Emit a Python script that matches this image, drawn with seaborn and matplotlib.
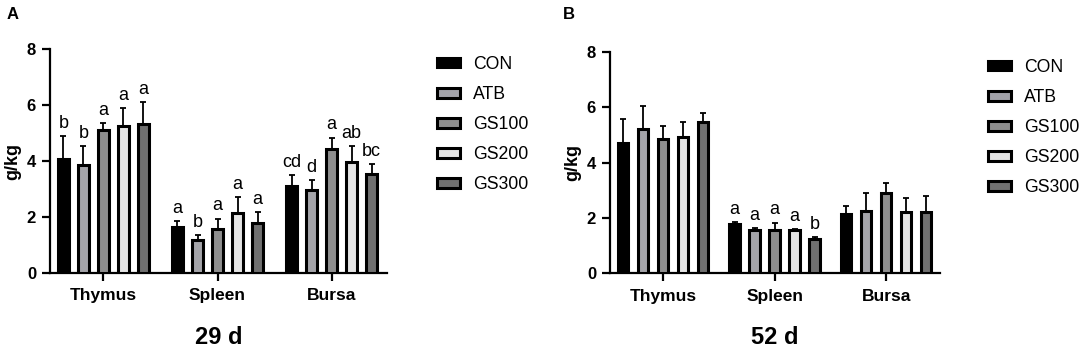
import numpy as np
import pandas as pd
import matplotlib
matplotlib.use("Agg")
import matplotlib.pyplot as plt
import seaborn as sns
from matplotlib.patches import Patch

organs = ["Thymus", "Spleen", "Bursa"]
groups = ["CON", "ATB", "GS100", "GS200", "GS300"]
colors = ["#000000", "#a3a3aa", "#8e8e8e", "#e4e4e4", "#707070"]

# Panel A (29 d): rows = groups, columns = organs
a_mean = [[4.06, 1.64, 3.11],
          [3.87, 1.17, 2.95],
          [5.10, 1.58, 4.44],
          [5.24, 2.14, 3.96],
          [5.31, 1.79, 3.52]]
a_sd = [[0.82, 0.22, 0.39],
        [0.65, 0.19, 0.36],
        [0.27, 0.36, 0.40],
        [0.65, 0.56, 0.58],
        [0.80, 0.38, 0.36]]
a_letters = [["b", "a", "cd"],
             ["b", "b", "d"],
             ["a", "a", "a"],
             ["a", "a", "ab"],
             ["a", "a", "bc"]]

# Panel B (52 d)
b_mean = [[4.72, 1.77, 2.15],
          [5.20, 1.58, 2.26],
          [4.86, 1.55, 2.90],
          [4.92, 1.56, 2.20],
          [5.45, 1.24, 2.20]]
b_sd = [[0.85, 0.08, 0.27],
        [0.85, 0.06, 0.64],
        [0.46, 0.28, 0.36],
        [0.56, 0.05, 0.53],
        [0.33, 0.07, 0.60]]
b_letters = [["", "a", ""],
             ["", "a", ""],
             ["", "a", ""],
             ["", "a", ""],
             ["", "b", ""]]

yticks = [0, 2, 4, 6, 8]

sns.set_theme(style="ticks")
plt.rcParams["font.family"] = ["Liberation Sans", "DejaVu Sans"]
for k in ["text.color", "axes.labelcolor", "xtick.color", "ytick.color",
          "axes.edgecolor"]:
    plt.rcParams[k] = "black"

W, H = 1084, 350
fig = plt.figure(figsize=(W / 100, H / 100), dpi=100)


def panel(rect, xlim, width, means, sds, letters, title, letter, letter_xy, legend_xy):
    ax = fig.add_axes(rect)
    rows = []
    for gi, g in enumerate(groups):
        for oi, o in enumerate(organs):
            rows.append({"organ": o, "group": g, "value": means[gi][oi]})
    df = pd.DataFrame(rows)
    sns.barplot(data=df, x="organ", y="value", hue="group", order=organs,
                hue_order=groups, palette=colors, edgecolor="black",
                linewidth=2.2, width=width, gap=0.48, errorbar=None,
                legend=False, ax=ax, zorder=3)
    bar_conts = list(ax.containers)
    for gi, cont in enumerate(bar_conts):
        xs = [b.get_x() + b.get_width() / 2 for b in cont]
        hs = [b.get_height() for b in cont]
        err = sds[gi]
        ax.errorbar(xs, hs, yerr=[np.zeros(len(err)), err], fmt="none",
                    ecolor="black", elinewidth=1.3, capsize=2.3,
                    capthick=1.3, zorder=2)
        for x, h, e, t in zip(xs, hs, err, letters[gi]):
            if t:
                ax.annotate(t, (x, h + e), xytext=(0, 3),
                            textcoords="offset points", ha="center",
                            va="bottom", fontsize=13, color="black")
    ax.set_xlim(*xlim)
    ax.set_ylim(0, 8)
    ax.set_yticks(yticks)
    ax.set_xlabel("")
    ax.set_ylabel("g/kg", fontsize=13, fontweight="bold", labelpad=4)
    sns.despine(ax=ax)
    for s in ["left", "bottom"]:
        ax.spines[s].set_linewidth(1.6)
        ax.spines[s].set_color("black")
    ax.tick_params(axis="both", length=6, width=1.6, color="black",
                   labelcolor="black")
    ax.tick_params(axis="x", pad=5, labelsize=12.5)
    ax.tick_params(axis="y", pad=4, labelsize=12)
    for lab in ax.get_xticklabels() + ax.get_yticklabels():
        lab.set_fontweight("bold")
    ax.set_facecolor("white")
    cx = rect[0] + rect[2] / 2
    fig.text(cx, 1 - 344 / H, title, ha="center", va="baseline",
             fontsize=17, fontweight="bold")
    fig.text(letter_xy[0] / W, 1 - letter_xy[1] / H, letter, ha="left",
             va="baseline", fontsize=12, fontweight="bold")
    handles = [Patch(facecolor=c, edgecolor="black", linewidth=2.2) for c in colors]
    fig.legend(handles, groups, loc="upper left",
               bbox_to_anchor=(legend_xy[0] / W, 1 - legend_xy[1] / H),
               frameon=False, fontsize=12.7, handlelength=1.3,
               handleheight=0.45, labelspacing=0.74, handletextpad=0.75,
               borderaxespad=0, borderpad=0)
    return ax


panel([50 / W, 1 - 272.7 / H, 337 / W, 223.4 / H], (-0.468, 2.485), 0.877,
      a_mean, a_sd, a_letters, "29 d", "A", (7, 19), (437, 56))
panel([610 / W, 1 - 273.3 / H, 330 / W, 221.6 / H], (-0.478, 2.484), 0.897,
      b_mean, b_sd, b_letters, "52 d", "B", (563, 19), (988, 59))

fig.savefig("out.png", dpi=100, facecolor="white")
